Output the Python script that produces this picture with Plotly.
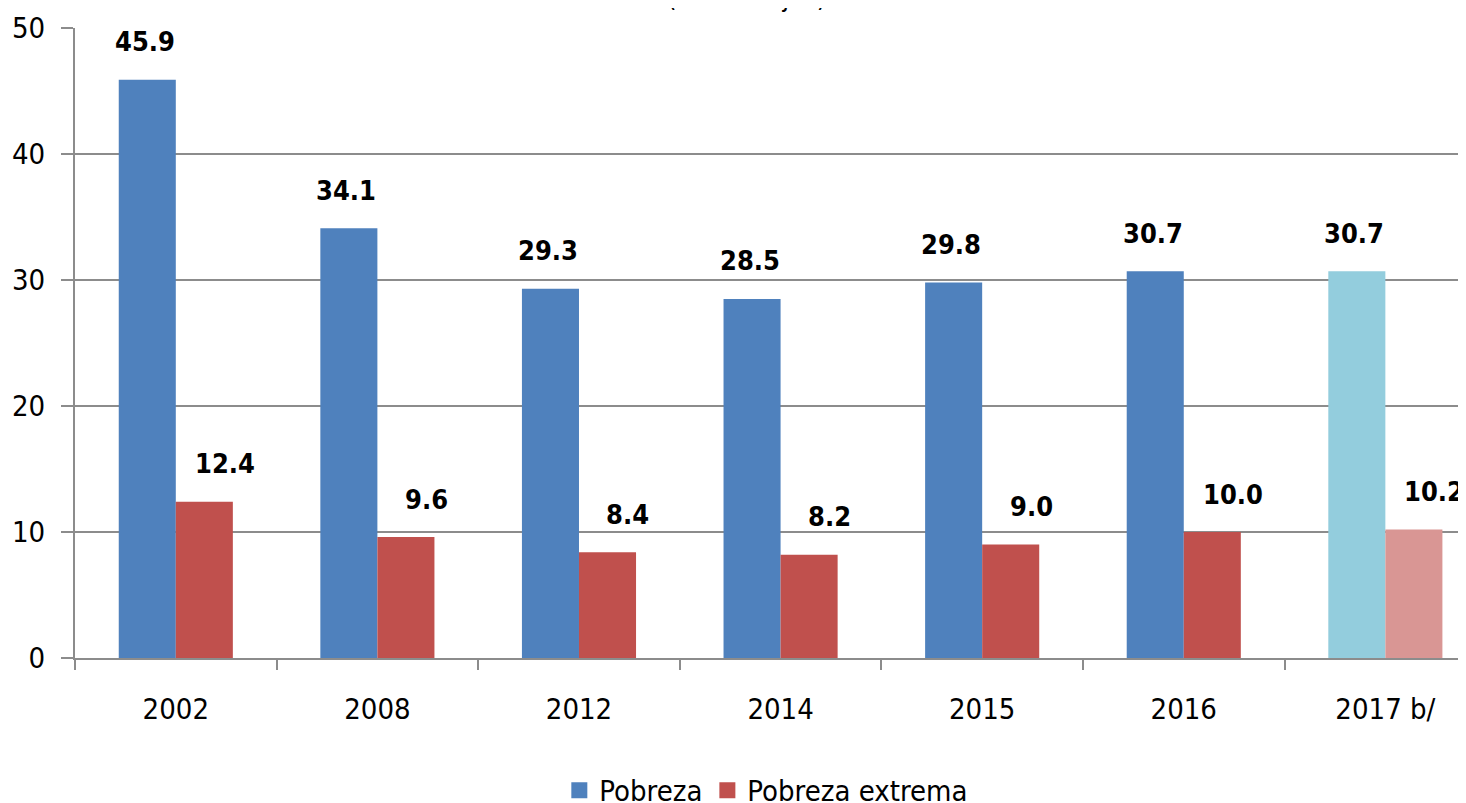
import plotly.graph_objects as go

# ─── Data ────────────────────────────────────────────────────────────────────
years = ["2002", "2008", "2012", "2014", "2015", "2016", "2017 b/"]
pobreza = [45.9, 34.1, 29.3, 28.5, 29.8, 30.7, 30.7]
pobreza_extrema = [12.4, 9.6, 8.4, 8.2, 9.0, 10.0, 10.2]
y_ticks = [0, 10, 20, 30, 40, 50]

# ─── Colors ──────────────────────────────────────────────────────────────────
BLUE = "#4F81BD"
RED = "#C0504D"
BLUE_PROJ = "#93CDDD"
RED_PROJ = "#D99694"
GRID = "#8C8C8C"
FONT = "DejaVu Sans Condensed, Liberation Sans Narrow, sans-serif"

blue_colors = [BLUE] * (len(years) - 1) + [BLUE_PROJ]
red_colors = [RED] * (len(years) - 1) + [RED_PROJ]

fig = go.Figure()
fig.add_trace(go.Bar(
    x=years, y=pobreza, name="Pobreza", showlegend=False,
    marker=dict(color=blue_colors, line=dict(width=0)),
))
fig.add_trace(go.Bar(
    x=years, y=pobreza_extrema, name="Pobreza extrema", showlegend=False,
    marker=dict(color=red_colors, line=dict(width=0)),
))

# legend entries with bigger square swatches
for name, color in [("Pobreza", BLUE), ("Pobreza extrema", RED)]:
    fig.add_trace(go.Scatter(
        x=[None], y=[None], mode="markers", name=name,
        marker=dict(symbol="square", size=21, color=color),
    ))

# value labels above bars (x by category index, numeric-looking names confuse annotations)
LABEL_FONT = dict(family=FONT, size=27, color="black", weight="bold")
for i, v in enumerate(pobreza):
    fig.add_annotation(x=i, y=v, text=f"{v:.1f}", showarrow=False,
                       xshift=-31, yshift=38, font=LABEL_FONT)
for i, v in enumerate(pobreza_extrema):
    fig.add_annotation(x=i, y=v, text=f"{v:.1f}", showarrow=False,
                       xshift=49, yshift=38, font=LABEL_FONT)

# title, mostly clipped at the top edge like the source
fig.add_annotation(
    x=0.483, y=1.05, xref="paper", yref="paper",
    text="(Porcentajes)", showarrow=False, yanchor="middle",
    font=dict(family=FONT, size=27, color="black"),
)

# page body has an 8px margin, so the figure is 8px smaller and margins shifted
fig.update_layout(
    width=1458, height=795,
    paper_bgcolor="white", plot_bgcolor="white",
    margin=dict(l=67, r=0, t=20, b=145, autoexpand=False),
    barmode="group", bargap=0.434, bargroupgap=0,
    font=dict(family=FONT, size=29, color="black"),
    showlegend=True,
    legend=dict(
        orientation="h", x=0.497, xanchor="center", y=-0.21, yanchor="middle",
        font=dict(family=FONT, size=29, color="black"),
        itemwidth=30, tracegroupgap=0,
    ),
    xaxis=dict(
        range=[-0.5, 6.4],
        showline=True, linecolor=GRID, linewidth=2,
        ticks="outside", tickson="boundaries", ticklen=10, tickwidth=2, tickcolor=GRID,
        ticklabelstandoff=24,
        showgrid=False,
        tickfont=dict(family=FONT, size=29, color="black"),
    ),
    yaxis=dict(
        range=[0, 50], tickvals=y_ticks,
        showline=True, linecolor=GRID, linewidth=2,
        showgrid=True, gridcolor=GRID, gridwidth=2,
        ticks="outside", ticklen=12, tickwidth=2, tickcolor=GRID,
        ticklabelstandoff=10,
        zeroline=False,
        tickfont=dict(family=FONT, size=29, color="black"),
    ),
)

fig.write_html("out.html")
